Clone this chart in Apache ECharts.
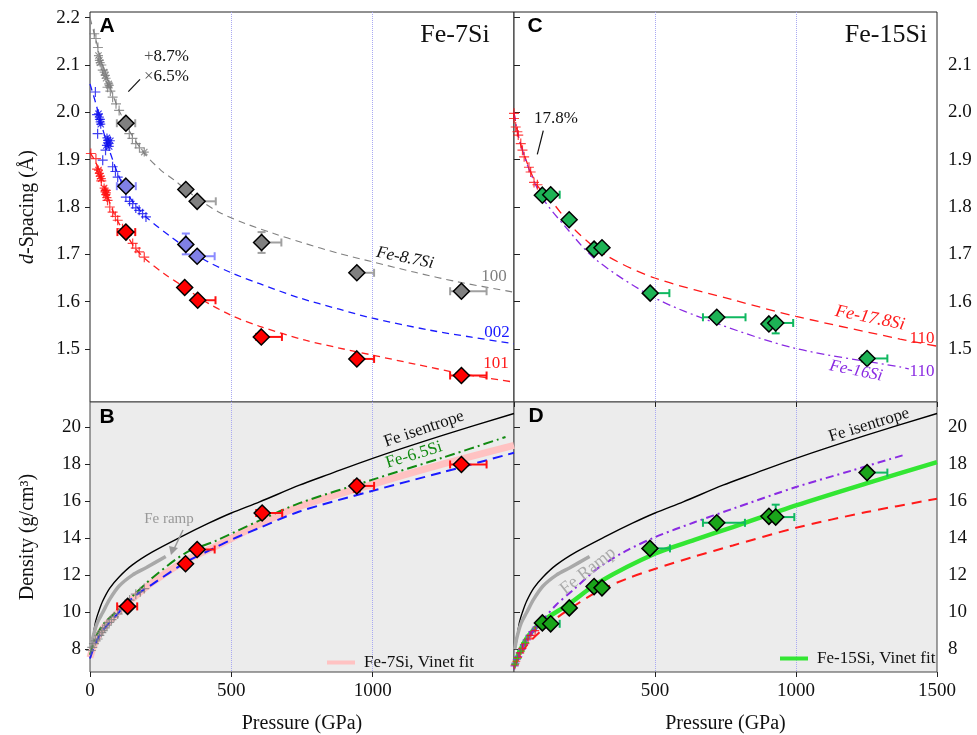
<!DOCTYPE html>
<html>
<head>
<meta charset="utf-8">
<script src="https://cdn.jsdelivr.net/npm/echarts@6/dist/echarts.min.js"></script>
<style>
html, body { margin: 0; padding: 0; background: #fff; }
#chart { width: 977px; height: 735px; }
</style>
</head>
<body>
<div id="chart"></div>
<script>
// ---- tick values ----
const dTicks = [1.5, 1.6, 1.7, 1.8, 1.9, 2.0, 2.1, 2.2]
const dTicksRight = [1.5, 1.6, 1.7, 1.8, 1.9, 2.0, 2.1]
const rhoTicks = [8, 10, 12, 14, 16, 18, 20]

// ---- panel A: Fe-7Si d-spacings (pressure GPa, d) ----
const fit100 = [[0, 2.2], [20, 2.155], [40, 2.11], [60, 2.072], [80, 2.038], [100, 2.008], [140, 1.96], [190, 1.915], [250, 1.878], [300, 1.856], [380, 1.818], [460, 1.788], [550, 1.765], [650, 1.744], [750, 1.725], [880, 1.702], [1000, 1.684], [1150, 1.662], [1300, 1.642], [1500, 1.62]]
const fit002 = [[0, 2.06], [20, 2.02], [40, 1.975], [60, 1.935], [80, 1.9], [100, 1.868], [130, 1.83], [160, 1.805], [200, 1.778], [293, 1.734], [400, 1.69], [500, 1.661], [600, 1.638], [741, 1.608], [882, 1.584], [1000, 1.565], [1200, 1.54], [1350, 1.525], [1500, 1.511]]
const fit101 = [[0, 1.915], [20, 1.895], [40, 1.86], [60, 1.825], [80, 1.793], [100, 1.768], [130, 1.74], [160, 1.713], [200, 1.688], [260, 1.66], [340, 1.628], [400, 1.603], [500, 1.571], [600, 1.548], [765, 1.518], [882, 1.502], [1000, 1.487], [1150, 1.468], [1314, 1.448], [1500, 1.43]]

const gray100Plus = [[15, 2.166], [21, 2.156], [28, 2.137], [40, 2.1], [45, 2.089], [62, 2.053], [72, 2.045], [80, 2.032], [92, 2.018], [103, 2.004], [118, 1.98], [139, 1.955], [150, 1.945], [162, 1.934], [175, 1.925]]
const gray100Star = [[30, 2.12], [33, 2.11], [36, 2.105], [50, 2.085], [54, 2.078], [57, 2.072], [66, 2.06], [68, 2.057], [192, 1.916]]
const blue002Plus = [[19, 2.043], [25, 1.995], [27, 1.955], [35, 1.985], [45, 1.899], [55, 1.92], [80, 1.885], [90, 1.875], [98, 1.863], [110, 1.848], [127, 1.821], [140, 1.812], [151, 1.807], [162, 1.798], [174, 1.793], [186, 1.786], [198, 1.779]]
const blue002Star = [[30, 1.997], [33, 1.99], [36, 1.98], [38, 1.975], [58, 1.93], [60, 1.946], [62, 1.941], [65, 1.935], [68, 1.928], [72, 1.94]]
const red101Plus = [[3, 1.913], [21, 1.902], [25, 1.88], [40, 1.855], [56, 1.835], [62, 1.814], [70, 1.8], [80, 1.789], [90, 1.78], [98, 1.772], [115, 1.754], [130, 1.74], [151, 1.723], [162, 1.713], [174, 1.705], [192, 1.694]]
const red101Star = [[30, 1.878], [33, 1.871], [36, 1.865], [40, 1.86], [50, 1.84], [53, 1.832], [56, 1.826], [58, 1.83], [60, 1.82]]

// [P, d, Plo, Phi, dlo, dhi]
const shock100 = [[127, 1.977, 95, 160, null, null], [339, 1.837, null, null, null, null], [379, 1.812, 379, 445, null, null], [607, 1.725, 607, 677, 1.703, 1.747], [944, 1.661, 944, 1005, null, null], [1314, 1.622, 1274, 1403, null, null]]
const shock002 = [[127, 1.844, 95, 162, null, null], [339, 1.721, null, null, 1.700, 1.744], [379, 1.696, 379, 441, null, null]]
const shock101 = [[127, 1.747, 97, 160, null, null], [335, 1.630, null, null, null, null], [381, 1.603, 381, 444, null, null], [606, 1.5255, 588, 679, null, null], [944, 1.479, 944, 1005, null, null], [1314, 1.444, 1274, 1403, null, null]]

// ---- panel C: Fe-15Si d-spacings ----
const fit178Si = [[0, 2.0], [10, 1.965], [25, 1.93], [50, 1.888], [83, 1.845], [136, 1.81], [219, 1.75], [326, 1.698], [499, 1.65], [776, 1.604], [1000, 1.569], [1369, 1.521], [1500, 1.506]]
const fit16Si = [[0, 2.0], [10, 1.965], [25, 1.93], [50, 1.885], [100, 1.82], [184, 1.757], [290, 1.689], [499, 1.608], [717, 1.5545], [1000, 1.501], [1369, 1.462], [1400, 1.458]]
const red110Plus = [[0, 1.998], [0, 1.987], [6, 1.969], [12, 1.959], [15, 1.952], [24, 1.934], [30, 1.92], [36, 1.906], [53, 1.884], [59, 1.874], [71, 1.852], [83, 1.847]]
const shock110 = [[100.6, 1.825, null, null, null, null], [130, 1.826, 130, 162, null, null], [195.5, 1.773, 185, 205, null, null], [284, 1.711, null, null, null, null], [312, 1.714, 300, 325, null, null], [483, 1.618, 483, 551, null, null], [719, 1.567, 670, 821, null, null], [904, 1.553, null, null, null, null], [928, 1.555, 928, 990, 1.533, 1.555], [1252, 1.480, 1233, 1324, null, null]]

// ---- panels B and D: density (P, rho) ----
const feIsentrope = [[8, 8.3], [12, 8.8], [20, 9.5], [30, 10.0], [45, 10.6], [70, 11.3], [103, 11.9], [150, 12.55], [221, 13.25], [327, 14.1], [420, 14.8], [500, 15.35], [600, 15.95], [741, 16.85], [847, 17.45], [1000, 18.3], [1250, 19.55], [1500, 20.72]]
const feRamp = [[3, 8.0], [9, 8.55], [25, 9.4], [45, 9.98], [70, 10.7], [103, 11.41], [150, 12.0], [198, 12.4], [268, 13.0]]
const fe65Si = [[0, 7.7], [10, 8.2], [25, 8.8], [50, 9.4], [103, 10.16], [160, 11.0], [221, 11.86], [339, 13.2], [445, 13.85], [600, 14.95], [741, 15.88], [1000, 17.15], [1250, 18.35], [1470, 19.45]]
const fe7SiVinet = [[0, 7.55], [10, 8.05], [25, 8.6], [50, 9.2], [100, 10.0], [160, 10.85], [220, 11.6], [340, 12.8], [445, 13.55], [600, 14.75], [741, 15.7], [1000, 16.9], [1250, 18.0], [1500, 19.0]]
const fe7SiBlue = [[0, 7.5], [10, 7.95], [25, 8.5], [50, 9.1], [100, 9.95], [153, 10.8], [220, 11.5], [340, 12.7], [445, 13.5], [506, 13.95], [600, 14.55], [741, 15.43], [1000, 16.55], [1250, 17.56], [1500, 18.6]]
const fe7SiDacPlus = [[3, 7.93], [8, 8.1], [14, 8.3], [20, 8.45], [27, 8.55], [33, 8.75], [40, 8.9], [45, 9.0], [52, 9.15], [60, 9.3], [68, 9.45], [76, 9.6], [85, 9.75], [98, 9.9], [110, 10.15], [125, 10.4], [140, 10.65], [162, 10.97], [178, 11.1], [192, 11.27]]
const shockRho7 = [[133, 10.31, 96, 167, null, null], [338, 12.61, null, null, null, null], [379, 13.38, 379, 441, null, null], [609, 15.35, 588, 680, null, null], [944, 16.81, 944, 1005, 16.5, 17.1], [1314, 17.97, 1274, 1403, null, null]]

const fe16SiRho = [[0, 7.0], [6, 7.25], [20, 7.8], [50, 8.65], [100, 9.54], [150, 10.4], [207, 11.16], [300, 12.4], [397, 13.3], [499, 14.04], [640, 14.85], [776, 15.58], [1000, 16.75], [1200, 17.65], [1380, 18.47]]
const fe178SiRho = [[0, 7.0], [18, 7.56], [50, 8.3], [124, 9.36], [200, 10.2], [302, 11.16], [400, 11.8], [499, 12.33], [640, 13.0], [776, 13.6], [1000, 14.55], [1250, 15.4], [1500, 16.12]]
const fe15SiVinet = [[0, 7.1], [6, 7.36], [20, 7.9], [50, 8.7], [100, 9.5], [196, 10.45], [302, 11.62], [499, 13.15], [640, 13.9], [776, 14.59], [1000, 15.76], [1250, 16.95], [1500, 18.1]]
const purpleDacPlus = [[2, 7.1], [5, 7.25], [10, 7.45], [15, 7.6], [20, 7.8], [28, 8.0], [35, 8.25], [45, 8.5], [55, 8.75], [65, 8.95], [80, 9.2], [96, 9.35]]
const redDacPlus = [[3, 7.15], [8, 7.35], [14, 7.55], [22, 7.8], [30, 8.05], [40, 8.3], [50, 8.55], [60, 8.75], [75, 9.0]]
const greenDacPlus = [[4, 7.2], [12, 7.5], [25, 7.9], [40, 8.35]]
const shockRho15 = [[100.6, 9.42, null, null, null, null], [130, 9.37, 130, 162, null, null], [196, 10.23, 186, 206, null, null], [284, 11.38, null, null, null, null], [312, 11.31, 300, 325, null, null], [482, 13.44, 482, 553, null, null], [719, 14.82, 670, 819, null, null], [904, 15.17, null, null, null, null], [928, 15.13, 928, 994, 15.13, 15.8], [1252, 17.53, 1252, 1324, null, null]]

const SERIF = 'Liberation Serif'
const PLUS = 'path://M0,5L10,5M5,0L5,10'
const STAR = 'path://M0,5L10,5M5,0L5,10M1.5,1.5L8.5,8.5M8.5,1.5L1.5,8.5'

const chart = echarts.init(document.getElementById('chart'), null, { renderer: 'canvas' })

function ok(v) { return typeof v === 'number' && isFinite(v) }

function errRender(color) {
	return function (params, api) {
		const x = api.value(0), y = api.value(1)
		const xl = api.value(2), xh = api.value(3), yl = api.value(4), yh = api.value(5)
		const st = { stroke: color, lineWidth: 2 }
		const kids = []
		if (ok(xl) && ok(xh)) {
			const a = api.coord([xl, y]), b = api.coord([xh, y])
			kids.push({ type: 'line', shape: { x1: a[0], y1: a[1], x2: b[0], y2: b[1] }, style: st })
			kids.push({ type: 'line', shape: { x1: a[0], y1: a[1] - 4, x2: a[0], y2: a[1] + 4 }, style: st })
			kids.push({ type: 'line', shape: { x1: b[0], y1: b[1] - 4, x2: b[0], y2: b[1] + 4 }, style: st })
		}
		if (ok(yl) && ok(yh)) {
			const a = api.coord([x, yl]), b = api.coord([x, yh])
			kids.push({ type: 'line', shape: { x1: a[0], y1: a[1], x2: b[0], y2: b[1] }, style: st })
			kids.push({ type: 'line', shape: { x1: a[0] - 4, y1: a[1], x2: a[0] + 4, y2: a[1] }, style: st })
			kids.push({ type: 'line', shape: { x1: b[0] - 4, y1: b[1], x2: b[0] + 4, y2: b[1] }, style: st })
		}
		return { type: 'group', children: kids }
	}
}

function curve(name, data, xi, yi, color, width, dash, z) {
	return {
		name, type: 'line', data, xAxisIndex: xi, yAxisIndex: yi, smooth: 0.3, symbol: 'none',
		color, itemStyle: { color },
		lineStyle: { color, width, type: dash || 'solid' }, z: z || 2, silent: true
	}
}
function crosses(data, xi, yi, color, sym, size) {
	return {
		type: 'scatter', data, xAxisIndex: xi, yAxisIndex: yi, symbol: sym, symbolSize: size || 8,
		itemStyle: { color: 'none', borderColor: color, borderWidth: 1.2 }, z: 3, silent: true
	}
}
function errs(data, xi, yi, color) {
	return {
		type: 'custom', data, xAxisIndex: xi, yAxisIndex: yi, renderItem: errRender(color),
		encode: { x: 0, y: 1 }, z: 4, silent: true, clip: false
	}
}
function diamonds(data, xi, yi, color) {
	return {
		type: 'scatter', data, xAxisIndex: xi, yAxisIndex: yi, symbol: 'diamond', symbolSize: 16,
		encode: { x: 0, y: 1 },
		itemStyle: { color, borderColor: '#000', borderWidth: 1.5, opacity: 1 }, z: 5, silent: true
	}
}

const tickFont = { fontFamily: SERIF, fontSize: 19, color: '#111' }
const dotted = { show: true, showMinLine: false, showMaxLine: false, lineStyle: { color: '#a9a9f2', type: 'dotted', width: 1 } }
function pAxis(grid, opts) {
	return Object.assign({
		type: 'value', gridIndex: grid, min: 0, max: 1500, interval: 500,
		axisLine: { show: false }, axisTick: { show: false }, axisLabel: { show: false }, splitLine: dotted
	}, opts || {})
}

function text(x, y, str, o) {
	o = o || {}
	return {
		type: 'text', x, y, rotation: o.rot || 0, z: 50, silent: true,
		style: {
			text: str, x: 0, y: 0,
			fill: o.color || '#111',
			font: (o.style || 'normal') + ' ' + (o.weight || 'normal') + ' ' + (o.size || 17) + 'px "' + (o.family || SERIF) + '"',
			align: o.align || 'center', verticalAlign: 'middle',
			textAlign: o.align || 'center', textVerticalAlign: 'middle',
			rich: o.rich
		}
	}
}
function seg(x1, y1, x2, y2, color, w) {
	return { type: 'line', z: 50, silent: true, shape: { x1, y1, x2, y2 }, style: { stroke: color, lineWidth: w || 1.2 } }
}

const plainNum = v => String(v)

const option = {
	backgroundColor: '#fff',
	animation: false,
	grid: [
		{ left: 90, top: 12, width: 424, height: 390, show: true, backgroundColor: '#fff', borderColor: '#222', borderWidth: 1 },
		{ left: 514, top: 12, width: 423, height: 390, show: true, backgroundColor: '#fff', borderColor: '#222', borderWidth: 1 },
		{ left: 90, top: 402, width: 424, height: 271, show: true, backgroundColor: '#ececec', borderColor: '#444', borderWidth: 1 },
		{ left: 514, top: 402, width: 423, height: 271, show: true, backgroundColor: '#ececec', borderColor: '#444', borderWidth: 1 }
	],
	xAxis: [
		pAxis(0),
		pAxis(1),
		pAxis(2, {
			axisTick: { show: true, length: 5, lineStyle: { color: '#222' } },
			axisLabel: { show: true, margin: 10, showMaxLabel: false, formatter: plainNum, ...tickFont },
			name: 'Pressure (GPa)', nameLocation: 'middle', nameGap: 42,
			nameTextStyle: { fontFamily: SERIF, fontSize: 20, color: '#111' }
		}),
		pAxis(3, {
			axisTick: { show: true, length: 5, lineStyle: { color: '#222' } },
			axisLabel: { show: true, margin: 10, showMinLabel: false, formatter: plainNum, ...tickFont },
			name: 'Pressure (GPa)', nameLocation: 'middle', nameGap: 42,
			nameTextStyle: { fontFamily: SERIF, fontSize: 20, color: '#111' }
		}),
		pAxis(3, { position: 'top', splitLine: { show: false }, axisTick: { show: true, inside: true, length: 5, lineStyle: { color: '#222' } } })
	],
	yAxis: [
		{
			type: 'value', gridIndex: 0, min: 1.388, max: 2.212, position: 'left',
			axisLine: { show: false }, splitLine: { show: false },
			axisTick: { show: true, length: 5, customValues: dTicks, lineStyle: { color: '#222' } },
			axisLabel: { customValues: dTicks, margin: 10, formatter: v => v.toFixed(1), ...tickFont },
			name: '{it|d}-Spacing (Å)', nameLocation: 'middle', nameRotate: 90, nameGap: 52,
			nameTextStyle: { fontFamily: SERIF, fontSize: 20, color: '#111', rich: { it: { fontFamily: SERIF, fontSize: 20, fontStyle: 'italic', color: '#111' } } }
		},
		{
			type: 'value', gridIndex: 1, min: 1.388, max: 2.212, position: 'right',
			axisLine: { show: false }, splitLine: { show: false },
			axisTick: { show: true, length: 5, customValues: dTicks, lineStyle: { color: '#222' } },
			axisLabel: { customValues: dTicksRight, margin: 11, formatter: v => v.toFixed(1), ...tickFont }
		},
		{
			type: 'value', gridIndex: 1, min: 1.388, max: 2.212, position: 'left',
			axisLine: { show: false }, splitLine: { show: false },
			axisTick: { show: true, inside: true, length: 6, customValues: dTicks, lineStyle: { color: '#222' } },
			axisLabel: { show: false }
		},
		{
			type: 'value', gridIndex: 2, min: 6.77, max: 21.34, position: 'left',
			axisLine: { show: false }, splitLine: { show: false },
			axisTick: { show: true, length: 5, customValues: rhoTicks, lineStyle: { color: '#222' } },
			axisLabel: { customValues: rhoTicks, margin: 9, ...tickFont },
			name: 'Density (g/cm³)', nameLocation: 'middle', nameRotate: 90, nameGap: 52,
			nameTextStyle: { fontFamily: SERIF, fontSize: 20, color: '#111' }
		},
		{
			type: 'value', gridIndex: 3, min: 6.77, max: 21.34, position: 'right',
			axisLine: { show: false }, splitLine: { show: false },
			axisTick: { show: true, length: 5, customValues: rhoTicks, lineStyle: { color: '#222' } },
			axisLabel: { customValues: rhoTicks, margin: 11, ...tickFont }
		},
		{
			type: 'value', gridIndex: 3, min: 6.77, max: 21.34, position: 'left',
			axisLine: { show: false }, splitLine: { show: false },
			axisTick: { show: true, inside: true, length: 6, customValues: rhoTicks, lineStyle: { color: '#222' } },
			axisLabel: { show: false }
		}
	],
	legend: [
		{
			data: ['Fe-7Si, Vinet fit'], left: 322, top: 649, selectedMode: false, icon: 'rect',
			itemWidth: 28, itemHeight: 4, textStyle: { fontFamily: SERIF, fontSize: 17, color: '#111', padding: [0, 0, 0, 4] }
		},
		{
			data: ['Fe-15Si, Vinet fit'], left: 775, top: 645, selectedMode: false, icon: 'rect',
			itemWidth: 28, itemHeight: 4, textStyle: { fontFamily: SERIF, fontSize: 17, color: '#111', padding: [0, 0, 0, 4] }
		}
	],
	series: [
		// panel A
		curve('fit100', fit100, 0, 0, '#808080', 1.1, [7, 5]),
		curve('fit002', fit002, 0, 0, '#1a1aff', 1.3, [7, 5]),
		curve('fit101', fit101, 0, 0, '#ff2020', 1.3, [7, 5]),
		crosses(gray100Plus, 0, 0, '#7a7a7a', PLUS, 10),
		crosses(gray100Star, 0, 0, '#7a7a7a', STAR, 9),
		crosses(blue002Plus, 0, 0, '#1010ee', PLUS, 10),
		crosses(blue002Star, 0, 0, '#1010ee', STAR, 9),
		crosses(red101Plus, 0, 0, '#ff1010', PLUS, 10),
		crosses(red101Star, 0, 0, '#ff1010', STAR, 9),
		errs(shock100, 0, 0, '#a0a0a0'),
		errs(shock002, 0, 0, '#8a8aff'),
		errs(shock101, 0, 0, '#ff1010'),
		diamonds(shock100, 0, 0, '#808080'),
		diamonds(shock002, 0, 0, '#8080e6'),
		diamonds(shock101, 0, 0, '#ff0000'),
		// panel C
		curve('fit178Si', fit178Si, 1, 1, '#ff1a1a', 1.3, [9, 6]),
		curve('fit16Si', fit16Si, 1, 1, '#8a2be2', 1.3, [8, 4, 2, 4]),
		crosses(red110Plus, 1, 1, '#ff1010', PLUS, 10),
		errs(shock110, 1, 1, '#10b860'),
		diamonds(shock110, 1, 1, '#1db355'),
		// panel B
		curve('Fe-7Si, Vinet fit', fe7SiVinet, 2, 3, '#ffc2c2', 7, 'solid', 2),
		curve('feIsentropeB', feIsentrope, 2, 3, '#000', 1.4, 'solid', 3),
		curve('feRampB', feRamp, 2, 3, '#a8a8a8', 3.5, 'solid', 3),
		curve('fe65Si', fe65Si, 2, 3, '#118a11', 2, [10, 4, 2, 4], 3),
		curve('fe7SiBlue', fe7SiBlue, 2, 3, '#1a1aff', 2, [10, 6], 3),
		crosses(fe7SiDacPlus, 2, 3, '#808080', PLUS, 10),
		errs(shockRho7, 2, 3, '#ff1010'),
		diamonds(shockRho7, 2, 3, '#ff0000'),
		// panel D
		curve('Fe-15Si, Vinet fit', fe15SiVinet, 3, 4, '#33e633', 4.5, 'solid', 2),
		curve('feIsentropeD', feIsentrope, 3, 4, '#000', 1.4, 'solid', 3),
		curve('feRampD', feRamp, 3, 4, '#a8a8a8', 3.5, 'solid', 3),
		curve('fe16SiRho', fe16SiRho, 3, 4, '#8a2be2', 2, [8, 4, 2, 4], 3),
		curve('fe178SiRho', fe178SiRho, 3, 4, '#ff1a1a', 2, [10, 7], 3),
		crosses(purpleDacPlus, 3, 4, '#8a2be2', PLUS, 8),
		crosses(redDacPlus, 3, 4, '#ff1010', PLUS, 8),
		crosses(greenDacPlus, 3, 4, '#22cc22', PLUS, 8),
		errs(shockRho15, 3, 4, '#10b860'),
		diamonds(shockRho15, 3, 4, '#1aa51a')
	],
	graphic: [
		text(107, 26, 'A', { family: 'Liberation Sans', weight: 'bold', size: 21, color: '#000' }),
		text(535, 26, 'C', { family: 'Liberation Sans', weight: 'bold', size: 21, color: '#000' }),
		text(107, 417, 'B', { family: 'Liberation Sans', weight: 'bold', size: 21, color: '#000' }),
		text(536, 416, 'D', { family: 'Liberation Sans', weight: 'bold', size: 21, color: '#000' }),
		text(455, 35, 'Fe-7Si', { size: 26 }),
		text(886, 35, 'Fe-15Si', { size: 26 }),
		text(144, 57, '{g|+}8.7%', { align: 'left', rich: { g: { fill: '#555', font: '17px "Liberation Serif"' } } }),
		text(144, 77, '{g|×}6.5%', { align: 'left', rich: { g: { fill: '#555', font: '17px "Liberation Serif"' } } }),
		seg(128.3, 91.7, 140, 79.3, '#111'),
		text(534, 119, '17.8%', { align: 'left' }),
		seg(537.3, 154.3, 543.3, 130.7, '#111'),
		text(405, 258, 'Fe-8.7Si', { style: 'italic', rot: -0.2 }),
		text(494, 277, '100', { color: '#808080' }),
		text(497, 333, '002', { color: '#1a1aff' }),
		text(496, 364, '101', { color: '#ff1a1a' }),
		text(870, 318, 'Fe-17.8Si', { style: 'italic', rot: -0.2, color: '#ff1a1a', size: 18 }),
		text(922, 339, '110', { color: '#ff1a1a' }),
		text(856, 371, 'Fe-16Si', { style: 'italic', rot: -0.2, color: '#8a2be2' }),
		text(922, 372, '110', { color: '#8a2be2' }),
		text(424, 429, 'Fe isentrope', { rot: 0.33 }),
		text(414, 455, 'Fe-6.5Si', { rot: 0.3, color: '#118a11' }),
		text(169, 519, 'Fe ramp', { color: '#999', size: 15 }),
		seg(183, 530, 174, 549, '#999', 1.5),
		{ type: 'polygon', z: 50, silent: true, shape: { points: [[171, 555], [169, 546], [178, 548]] }, style: { fill: '#999' } },
		text(869, 425, 'Fe isentrope', { rot: 0.3 }),
		text(588, 571, 'Fe Ramp', { rot: 0.67, color: '#aaa', size: 18 })
	]
}

chart.setOption(option)
window.addEventListener('resize', () => chart.resize())
</script>
</body>
</html>
